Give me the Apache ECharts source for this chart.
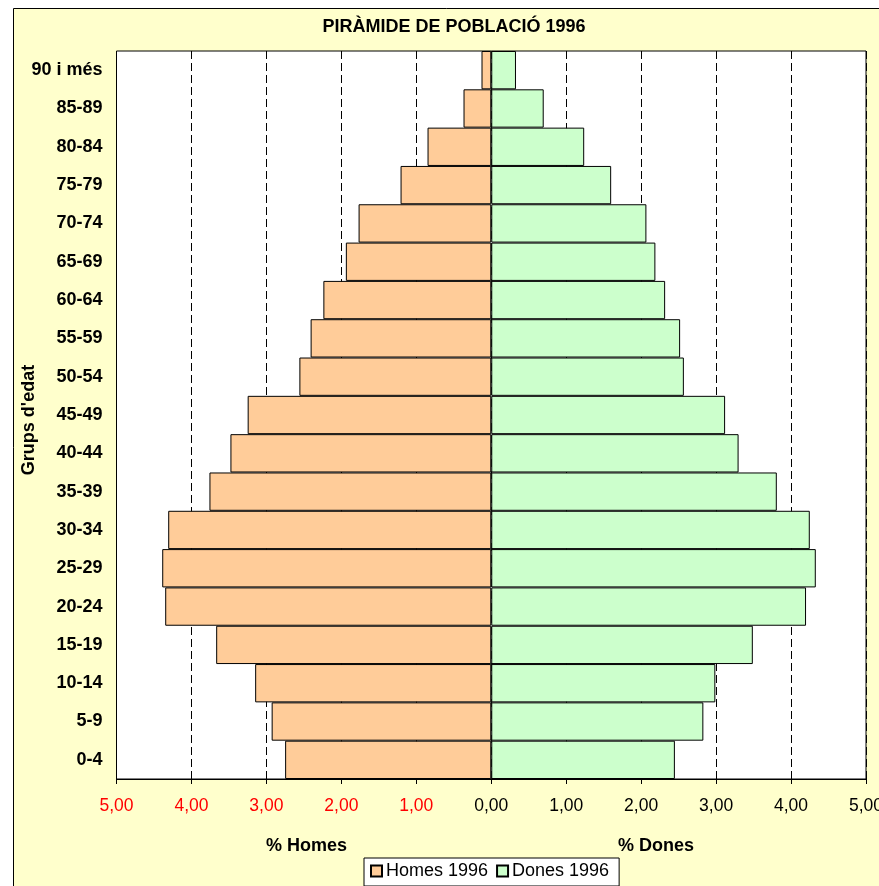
<!DOCTYPE html>
<html>
<head>
    <meta charset="utf-8">
    <title>Piràmide de població 1996</title>
    <script src="https://cdn.jsdelivr.net/npm/echarts@6/dist/echarts.min.js"></script>
    <style>
        html, body { margin: 0; padding: 0; background: #fff; }
    </style>
</head>
<body>
<div id="main" style="width: 879px;height:886px;"></div>
<script type="text/javascript">
    // grups d'edat, de baix a dalt
    var grups = ['0-4', '5-9', '10-14', '15-19', '20-24', '25-29', '30-34', '35-39', '40-44',
        '45-49', '50-54', '55-59', '60-64', '65-69', '70-74', '75-79', '80-84', '85-89', '90 i més'];
    // % homes (es dibuixa cap a l'esquerra)
    var homes = [2.75, 2.93, 3.15, 3.67, 4.35, 4.39, 4.31, 3.76, 3.48,
        3.25, 2.56, 2.41, 2.24, 1.94, 1.77, 1.21, 0.85, 0.37, 0.13];
    // % dones
    var dones = [2.45, 2.83, 2.99, 3.49, 4.20, 4.33, 4.25, 3.81, 3.30,
        3.12, 2.57, 2.52, 2.32, 2.19, 2.07, 1.60, 1.24, 0.70, 0.33];
    var ticksX = [-5, -4, -3, -2, -1, 0, 1, 2, 3, 4, 5];

    var font = 'Arial, "Liberation Sans", sans-serif';
    var myChart = echarts.init(document.getElementById('main'));

    function fmt(v) {
        return Math.abs(v).toFixed(2).replace('.', ',');
    }

    var option = {
        backgroundColor: '#ffffff',
        animation: false,
        textStyle: { fontFamily: font },
        title: {
            text: 'PIRÀMIDE DE POBLACIÓ 1996',
            left: 449,
            textAlign: 'center',
            top: 13,
            textStyle: { fontSize: 18, fontWeight: 'bold', color: '#000', fontFamily: font }
        },
        graphic: [
            {
                type: 'rect', z: -100, silent: true,
                shape: { x: 13.5, y: 8.5, width: 900, height: 900 },
                style: { fill: '#FFFFCC', stroke: '#000', lineWidth: 1 }
            },
            {
                type: 'text', left: 266, top: 837,
                style: { text: '% Homes', font: 'bold 18px ' + font, fill: '#000' }
            },
            {
                type: 'text', left: 618, top: 837,
                style: { text: '% Dones', font: 'bold 18px ' + font, fill: '#000' }
            }
        ],
        legend: {
            left: 364,
            top: 858,
            orient: 'horizontal',
            icon: 'rect',
            itemWidth: 11,
            itemHeight: 11,
            itemGap: 8,
            padding: [4, 10, 6, 6],
            backgroundColor: '#ffffff',
            borderColor: '#000',
            borderWidth: 1,
            borderRadius: 0,
            textStyle: { fontSize: 18, color: '#000', fontFamily: font, padding: [0, 0, 0, -1] },
            data: ['Homes 1996', 'Dones 1996']
        },
        grid: {
            left: 116.5,
            right: 13,
            top: 51,
            bottom: 107,
            outerBoundsMode: 'none',
            containLabel: false,
            show: true,
            backgroundColor: '#ffffff',
            borderColor: '#000',
            borderWidth: 1
        },
        xAxis: {
            type: 'value',
            min: ticksX[0],
            max: ticksX[ticksX.length - 1],
            interval: 1,
            axisLine: { show: true, onZero: false, lineStyle: { color: '#000', width: 1 } },
            axisTick: { show: true, inside: false, length: 5, lineStyle: { color: '#000' } },
            axisLabel: {
                margin: 18,
                fontSize: 17.5,
                fontFamily: font,
                showMinLabel: true,
                showMaxLabel: true,
                hideOverlap: false,
                formatter: function (v) { return fmt(v); },
                color: function (v) { return Number(v) < 0 ? '#FF0000' : '#000000'; }
            },
            splitLine: {
                show: true,
                lineStyle: { color: '#000', width: 1, type: [8, 4] }
            }
        },
        yAxis: {
            type: 'category',
            data: grups,
            name: "Grups d'edat",
            nameLocation: 'middle',
            nameRotate: 90,
            nameGap: 78,
            nameMoveOverlap: false,
            nameTextStyle: { fontSize: 18, fontWeight: 'bold', color: '#000', fontFamily: font,
                padding: [0, 10, 0, 0] },
            axisLine: { show: false, onZero: false },
            axisTick: { show: false },
            axisLabel: { margin: 14, fontSize: 18, fontWeight: 'bold', color: '#000', fontFamily: font },
            splitLine: { show: false }
        },
        series: [
            {
                name: 'Homes 1996',
                type: 'bar',
                barGap: '-100%',
                barCategoryGap: '0%',
                data: homes.map(function (v) { return -v; }),
                itemStyle: { color: '#FFCC99', borderColor: '#000', borderWidth: 1 }
            },
            {
                name: 'Dones 1996',
                type: 'bar',
                barGap: '-100%',
                barCategoryGap: '0%',
                data: dones,
                itemStyle: { color: '#CCFFCC', borderColor: '#000', borderWidth: 1 }
            }
        ]
    };

    if (option && typeof option === 'object') {
        myChart.setOption(option);
    }
</script>
</body>
</html>
